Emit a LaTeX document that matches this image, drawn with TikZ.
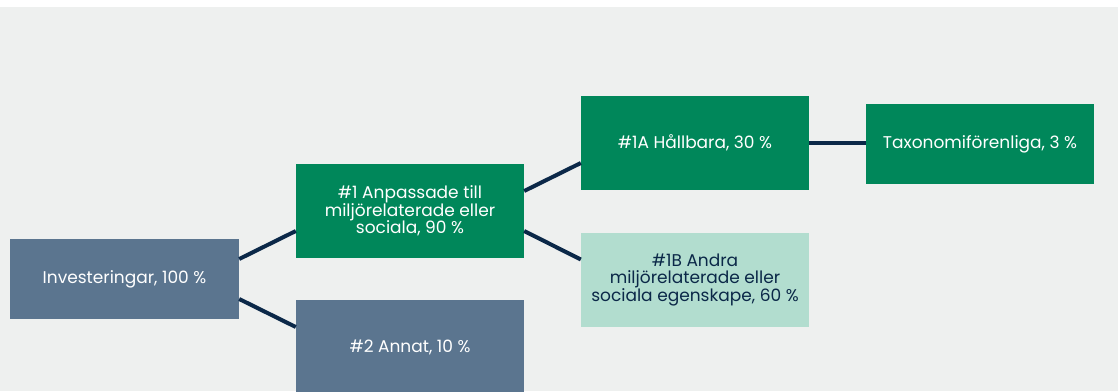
\documentclass[tikz,border=0pt]{standalone}
\usepackage{fontspec}
\setmainfont{Poppins}
\definecolor{bggray}{HTML}{EEF0EF}
\definecolor{navy}{HTML}{0B2848}
\definecolor{slate}{HTML}{5B758F}
\definecolor{green}{HTML}{00875A}
\definecolor{mint}{HTML}{B2DDCF}
\begin{document}
\begin{tikzpicture}[x=1pt, y=-1pt,
            box/.style={rectangle, inner sep=0pt, minimum width=228pt, minimum height=94pt, align=center, text=white, font=\fontsize{17}{17.5}\selectfont},
            greenbox/.style={box, fill=green},
            slatebox/.style={box, fill=slate},
            mintbox/.style={box, fill=mint, text=navy},
            link/.style={draw=navy, line width=4pt}
            ]
            \useasboundingbox (0,0) rectangle (1118,391);
            \fill[white] (0,0) rectangle (1118,7);
            \fill[bggray] (0,7) rectangle (1118,391);
            \clip (0,0) rectangle (1118,391);

            \node[slatebox, minimum width=229pt, minimum height=80pt] (inv) at (124.5,279) {Investeringar, 100 \%};
            \node[greenbox] (a1) at (410,211) {\#1 Anpassade till\\miljörelaterade eller\\sociala, 90 \%};
            \node[slatebox] (a2) at (410,347) {\#2 Annat, 10 \%};
            \node[greenbox] (a1A) at (695,143) {\#1A Hållbara, 30 \%};
            \node[mintbox] (a1B) at (695,279.5) {\#1B Andra\\miljörelaterade eller\\sociala egenskape, 60 \%};
            \node[greenbox, minimum height=80pt] (tax) at (980,144) {Taxonomiförenliga, 3 \%};

            \draw[link] ([yshift=20pt]inv.east)--([yshift=-20pt]a1.west);
            \draw[link] ([yshift=-20pt]inv.east)--([yshift=20pt]a2.west);
            \draw[link] ([yshift=20pt]a1.east)--([yshift=-20pt]a1A.west);
            \draw[link] ([yshift=-20pt]a1.east)--([yshift=20pt]a1B.west);
            \draw[link] (a1A.east)--(a1A.east -| tax.west);
            \end{tikzpicture}
\end{document}
